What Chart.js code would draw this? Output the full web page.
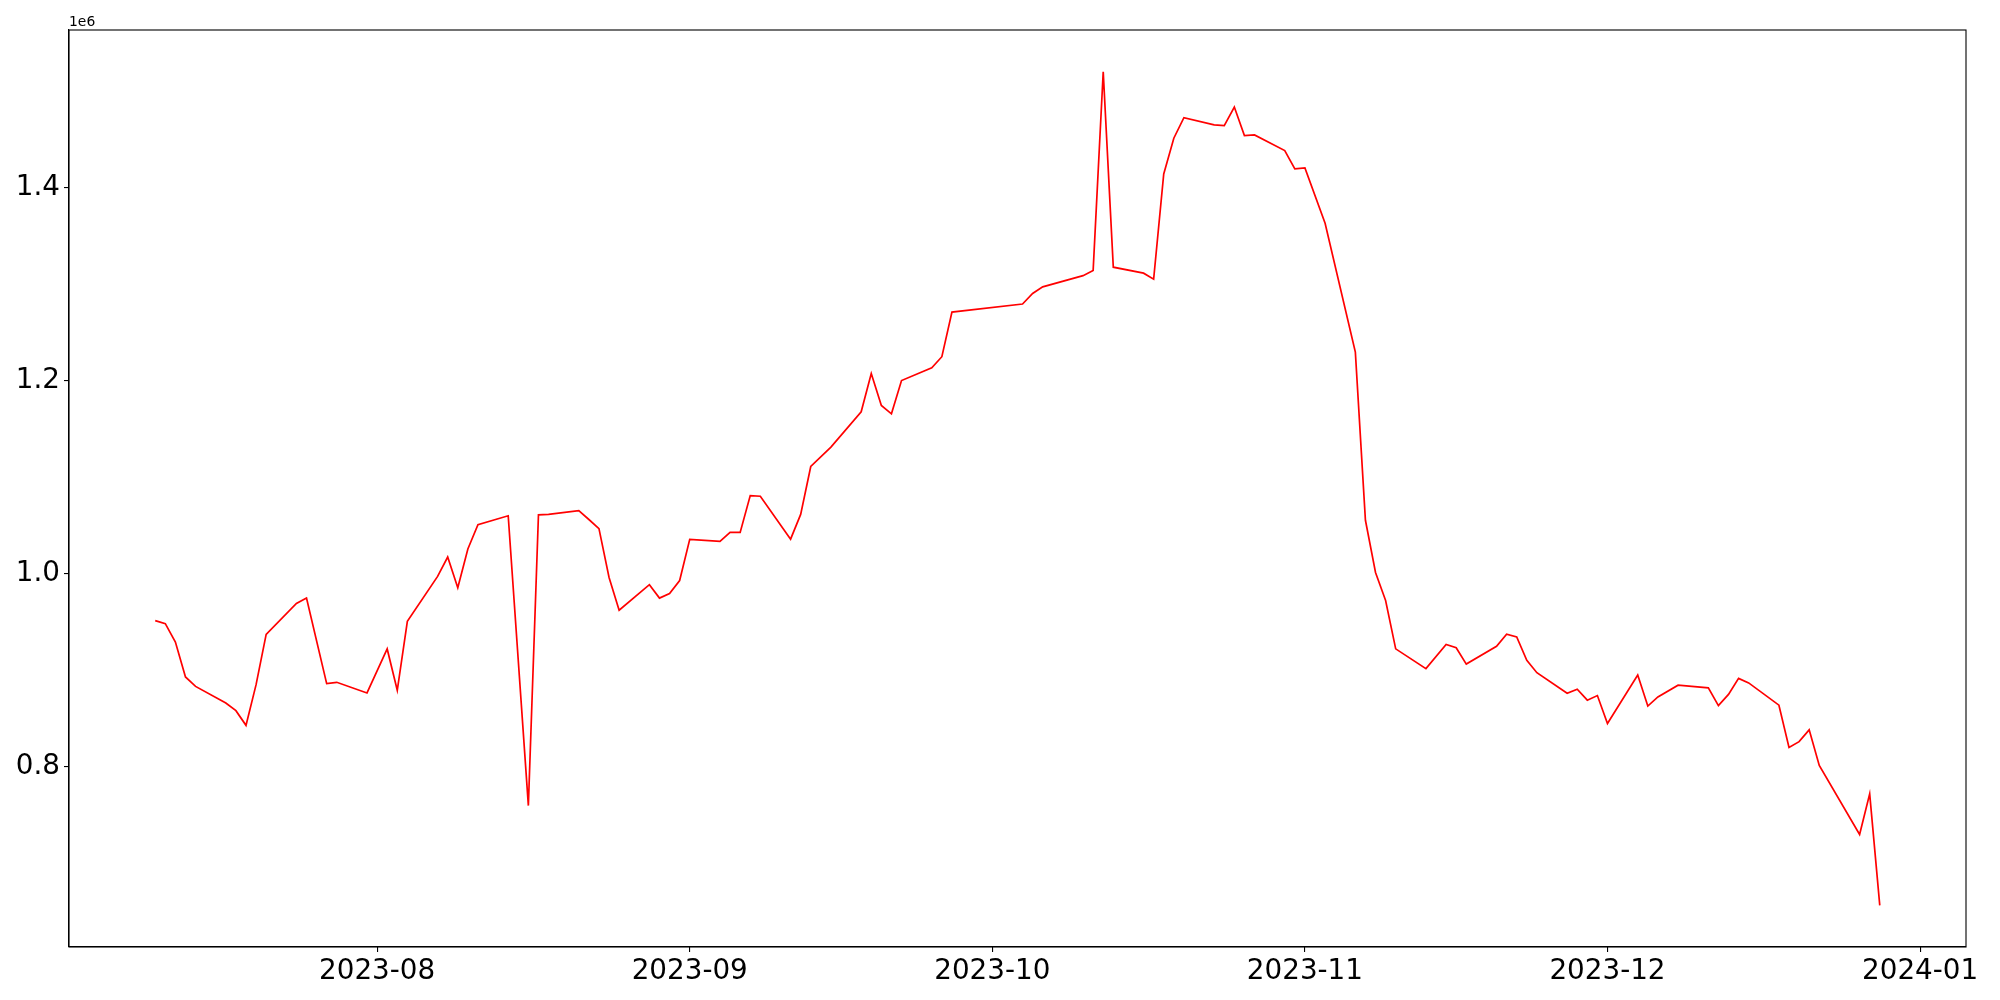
<html>
<head>
<script src="https://cdn.jsdelivr.net/npm/chart.js@4.4.1/dist/chart.umd.min.js"></script>
<style>
  body { margin: 0; background: #fff; }
  #wrap { width: 2000px; height: 1000px; }
</style>
</head>
<body>
<div id="wrap"><canvas id="myChart" width="2000" height="1000"></canvas></div>
<script>
// trading days
var dates = [
  '2023-07-10','2023-07-11','2023-07-12','2023-07-13','2023-07-14',
  '2023-07-17','2023-07-18','2023-07-19','2023-07-20','2023-07-21',
  '2023-07-24','2023-07-25','2023-07-27','2023-07-28',
  '2023-07-31','2023-08-02','2023-08-03','2023-08-04',
  '2023-08-07','2023-08-08','2023-08-09','2023-08-10','2023-08-11',
  '2023-08-14','2023-08-16','2023-08-17','2023-08-18',
  '2023-08-21','2023-08-22','2023-08-23','2023-08-24','2023-08-25',
  '2023-08-28','2023-08-29','2023-08-30','2023-08-31','2023-09-01',
  '2023-09-04','2023-09-05','2023-09-06','2023-09-07','2023-09-08',
  '2023-09-11','2023-09-12','2023-09-13','2023-09-15',
  '2023-09-18','2023-09-19','2023-09-20','2023-09-21','2023-09-22',
  '2023-09-25','2023-09-26','2023-09-27',
  '2023-10-04','2023-10-05','2023-10-06',
  '2023-10-10','2023-10-11','2023-10-12','2023-10-13',
  '2023-10-16','2023-10-17','2023-10-18','2023-10-19','2023-10-20',
  '2023-10-23','2023-10-24','2023-10-25','2023-10-26','2023-10-27',
  '2023-10-30','2023-10-31','2023-11-01','2023-11-03',
  '2023-11-06','2023-11-07','2023-11-08','2023-11-09','2023-11-10',
  '2023-11-13','2023-11-15','2023-11-16','2023-11-17',
  '2023-11-20','2023-11-21','2023-11-22','2023-11-23','2023-11-24',
  '2023-11-27','2023-11-28','2023-11-29','2023-11-30','2023-12-01',
  '2023-12-04','2023-12-05','2023-12-06','2023-12-08',
  '2023-12-11','2023-12-12','2023-12-13','2023-12-14','2023-12-15',
  '2023-12-18','2023-12-19','2023-12-20','2023-12-21','2023-12-22',
  '2023-12-26','2023-12-27','2023-12-28'
];

var values = [
  951300, 948200, 929200, 893000, 883200,
  866000, 858000, 842800, 885000, 937100,
  969200, 974800, 886000, 887400,
  876400, 922000, 879100, 950600,
  997200, 1017300, 985500, 1025600, 1050800,
  1060100, 759600, 1061100, 1061500,
  1065300, 1056200, 1046800, 996100, 962200,
  988600, 974700, 979500, 992900, 1035600,
  1033600, 1042800, 1042800, 1081000, 1080300,
  1035800, 1061500, 1111200, 1131300,
  1167900, 1207600, 1174400, 1165800, 1200300,
  1213500, 1225000, 1271200,
  1279600, 1290500, 1297400,
  1309000, 1314300, 1520500, 1317800,
  1311600, 1305400, 1414500, 1451500, 1472800,
  1465300, 1464600, 1483900, 1454200, 1454900,
  1438700, 1419700, 1420700, 1363400,
  1229700, 1055400, 1001300, 972200, 922100,
  901600, 926600, 923300, 906300,
  924700, 937400, 934500, 910200, 897400,
  876000, 880300, 868900, 873700, 844700,
  895000, 862800, 872200, 884400,
  881700, 863200, 874900, 891500, 886800,
  863700, 819900, 825900, 838100, 801200,
  729600, 771700, 656200
];

var xTickDates = ['2023-08-01','2023-09-01','2023-10-01','2023-11-01','2023-12-01','2024-01-01'];
var yTicks = [800000, 1000000, 1200000, 1400000];

function ts(s) { return Date.parse(s + 'T00:00:00Z'); }

var points = [];
for (var i = 0; i < dates.length; i++) {
  points.push({ x: ts(dates[i]), y: values[i] });
}

// matplotlib style 5% margins
var x0 = ts(dates[0]), x1 = ts(dates[dates.length - 1]);
var y0 = Math.min.apply(null, values), y1 = Math.max.apply(null, values);
var xPad = (x1 - x0) * 0.05, yPad = (y1 - y0) * 0.05;

var font = "'DejaVu Sans', sans-serif";

var frame = {
  id: 'frame',
  afterDraw: function (chart) {
    var a = chart.chartArea, ctx = chart.ctx;
    ctx.save();
    ctx.strokeStyle = '#000';
    ctx.lineWidth = 1.1;
    ctx.strokeRect(a.left, a.top, a.right - a.left, a.bottom - a.top);
    ctx.fillStyle = '#000';
    ctx.font = '13.9px ' + font;
    ctx.textAlign = 'left';
    ctx.textBaseline = 'bottom';
    ctx.fillText('1e6', a.left, a.top - 1);
    ctx.restore();
  }
};

var ctx = document.getElementById('myChart').getContext('2d');
var myChart = new Chart(ctx, {
  type: 'line',
  data: {
    datasets: [{
      data: points,
      borderColor: '#ff0000',
      borderWidth: 1.7,
      pointRadius: 0,
      tension: 0,
      fill: false
    }]
  },
  options: {
    responsive: false,
    animation: false,
    devicePixelRatio: 1,
    layout: { padding: { left: 0, top: 30, right: 34, bottom: 0 } },
    plugins: { legend: { display: false }, tooltip: { enabled: false } },
    scales: {
      x: {
        type: 'linear',
        min: x0 - xPad,
        max: x1 + xPad,
        afterBuildTicks: function (scale) {
          scale.ticks = xTickDates.map(function (d) { return { value: ts(d) }; });
        },
        afterFit: function (scale) { scale.height = 53; },
        ticks: {
          autoSkip: false,
          maxRotation: 0,
          padding: 3,
          color: '#000',
          font: { family: font, size: 27.8 },
          callback: function (v) {
            var d = new Date(v);
            var m = d.getUTCMonth() + 1;
            return d.getUTCFullYear() + '-' + (m < 10 ? '0' : '') + m;
          }
        },
        grid: { drawOnChartArea: false, drawTicks: true, tickLength: 5, color: '#000', lineWidth: 1.1 },
        border: { display: true, color: '#000', width: 1.1 }
      },
      y: {
        min: y0 - yPad,
        max: y1 + yPad,
        afterBuildTicks: function (scale) {
          scale.ticks = yTicks.map(function (v) { return { value: v }; });
        },
        afterFit: function (scale) { scale.width = 69; },
        ticks: {
          autoSkip: false,
          padding: 4,
          color: '#000',
          font: { family: font, size: 27.8 },
          callback: function (v) { return (v / 1e6).toFixed(1); }
        },
        grid: { drawOnChartArea: false, drawTicks: true, tickLength: 5, color: '#000', lineWidth: 1.1 },
        border: { display: true, color: '#000', width: 1.1 }
      }
    }
  },
  plugins: [frame]
});
</script>
</body>
</html>
